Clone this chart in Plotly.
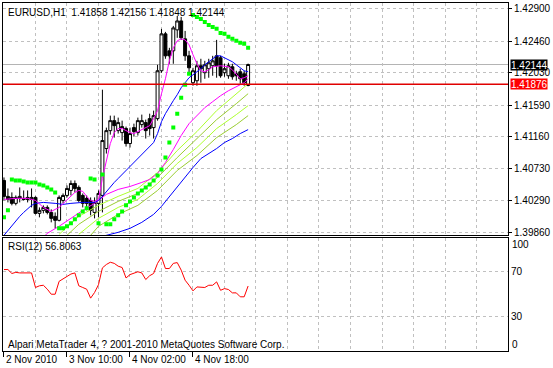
import plotly.graph_objects as go

# ---------------- data ----------------
bars = list(range(63))
opens = [1.40566, 1.40349, 1.40335, 1.40254, 1.40322, 1.40322, 1.40335, 1.40308, 1.40335, 1.40118,
         1.40159, 1.40199, 1.40131, 1.40077, 1.40023, 1.40294, 1.40362, 1.40430, 1.40525, 1.40471,
         1.40362, 1.40322, 1.40294, 1.40131, 1.40254, 1.40362, 1.41000, 1.41244, 1.41380, 1.41244,
         1.41217, 1.41272, 1.41068, 1.41285, 1.41217, 1.41326, 1.41353, 1.41407, 1.41285, 1.41407,
         1.42059, 1.42561, 1.42330, 1.42330, 1.42615, 1.42737, 1.42493, 1.42262, 1.41896, 1.41923,
         1.42127, 1.42032, 1.42086, 1.42127, 1.42262, 1.42235, 1.42032, 1.41991, 1.42113, 1.42018,
         1.42045, 1.42018, 1.41858]
highs = [1.40607, 1.40457, 1.40403, 1.40362, 1.40471, 1.40430, 1.40430, 1.40457, 1.40349, 1.40199,
         1.40227, 1.40227, 1.40172, 1.40131, 1.40362, 1.40389, 1.40498, 1.40566, 1.40566, 1.40498,
         1.40389, 1.40362, 1.40335, 1.40335, 1.40430, 1.41801, 1.41285, 1.41448, 1.41448, 1.41421,
         1.41380, 1.41299, 1.41285, 1.41339, 1.41421, 1.41462, 1.41394, 1.41475, 1.41516, 1.42140,
         1.42629, 1.42588, 1.42371, 1.42669, 1.42805, 1.42791, 1.42601, 1.42330, 1.42099, 1.42194,
         1.42222, 1.42194, 1.42222, 1.42262, 1.42479, 1.42262, 1.42154, 1.42167, 1.42154, 1.42059,
         1.42086, 1.42059, 1.42156]
lows = [1.40294, 1.40267, 1.40227, 1.40227, 1.40267, 1.40294, 1.40267, 1.40199, 1.40104, 1.40064,
        1.40118, 1.40104, 1.39996, 1.39914, 1.40009, 1.40254, 1.40335, 1.40362, 1.40403, 1.40267,
        1.40199, 1.40159, 1.40091, 1.40050, 1.40064, 1.40131, 1.40932, 1.41190, 1.41149, 1.41204,
        1.41109, 1.41027, 1.41014, 1.41163, 1.41177, 1.41285, 1.41136, 1.41177, 1.41136, 1.41380,
        1.42032, 1.42222, 1.42154, 1.42154, 1.42507, 1.42479, 1.42194, 1.42032, 1.41855, 1.41855,
        1.41896, 1.41950, 1.41964, 1.41991, 1.41964, 1.41964, 1.41977, 1.41950, 1.41937, 1.41923,
        1.41882, 1.41855, 1.41848]
closes = [1.40349, 1.40308, 1.40254, 1.40335, 1.40349, 1.40308, 1.40308, 1.40335, 1.40118, 1.40159,
          1.40199, 1.40131, 1.40050, 1.40023, 1.40335, 1.40362, 1.40457, 1.40525, 1.40457, 1.40294,
          1.40254, 1.40254, 1.40159, 1.40267, 1.40389, 1.41109, 1.41244, 1.41380, 1.41312, 1.41353,
          1.41299, 1.41068, 1.41204, 1.41231, 1.41380, 1.41380, 1.41244, 1.41272, 1.41448, 1.42059,
          1.42561, 1.42262, 1.42262, 1.42642, 1.42737, 1.42507, 1.42262, 1.42099, 1.42059, 1.42127,
          1.42086, 1.42140, 1.42167, 1.42194, 1.42127, 1.41991, 1.42086, 1.42127, 1.41977, 1.41991,
          1.41950, 1.41896, 1.42144]

ma_fast_x = [0, 3, 6, 8, 10, 12, 14, 16, 18, 19, 20, 21, 22, 23, 24, 25, 26, 27, 28, 29,
             30, 31, 32, 33, 34, 35, 36, 37, 38, 39, 40, 41, 42, 43, 44, 45, 46, 47, 48, 49,
             50, 51, 52, 53, 55, 57, 58, 59, 60, 61, 62]
ma_fast_y = [1.40308, 1.40322, 1.40322, 1.40294, 1.40199, 1.40145, 1.40199, 1.40308, 1.40403, 1.40430,
             1.40417, 1.40349, 1.40294, 1.40281, 1.40308, 1.40593, 1.40837, 1.41068, 1.41217, 1.41272,
             1.41272, 1.41244, 1.41217, 1.41204, 1.41231, 1.41258, 1.41285, 1.41312, 1.41407, 1.41516,
             1.41747, 1.41950, 1.42194, 1.42371, 1.42466, 1.42493, 1.42479, 1.42412, 1.42276, 1.42154,
             1.42059, 1.42045, 1.42072, 1.42113, 1.42127, 1.42113, 1.42072, 1.42004, 1.41950, 1.41964,
             1.41991]

ma_blue_x = [0, 1, 2, 3, 4, 5, 6, 7, 8, 10, 13, 15, 17, 20, 23, 24, 25, 26, 27, 28, 29, 30,
             32, 34, 36, 38, 39, 40, 41, 42, 43, 44, 45, 46, 47, 48, 49, 50, 51, 52, 53, 54,
             55, 56, 57, 58, 59, 60, 61, 62]
ma_blue_y = [1.39819, 1.39887, 1.39955, 1.40023, 1.40077, 1.40131, 1.40186, 1.40227, 1.40254,
             1.40267, 1.40254, 1.40240, 1.40254, 1.40267, 1.40267, 1.40294, 1.40349, 1.40417,
             1.40484, 1.40539, 1.40593, 1.40647, 1.40756, 1.40864, 1.40973, 1.41082, 1.41204,
             1.41366, 1.41475, 1.41570, 1.41652, 1.41733, 1.41828, 1.41896, 1.41964, 1.42004,
             1.42045, 1.42086, 1.42140, 1.42181, 1.42222, 1.42262, 1.42262, 1.42235, 1.42208,
             1.42181, 1.42140, 1.42099, 1.42059, 1.42045]

ma_slow_x = [10, 11, 14, 17, 20, 23, 24, 26, 29, 32, 35, 37, 39, 41, 43, 45, 47, 49, 51, 53,
             55, 57, 59, 61, 62]
ma_slow_y = [1.39792, 1.39847, 1.39942, 1.40050, 1.40159, 1.40254, 1.40294, 1.40376, 1.40444,
             1.40484, 1.40539, 1.40579, 1.40661, 1.40810, 1.40987, 1.41177, 1.41339, 1.41448,
             1.41557, 1.41638, 1.41719, 1.41787, 1.41842, 1.41896, 1.41950]

ma_low_x = [23, 26, 29, 32, 35, 38, 40, 42, 44, 46, 48, 50, 52, 54, 56, 58, 60, 62]
ma_low_y = [1.39752, 1.39819, 1.39860, 1.39914, 1.39996, 1.40104, 1.40213, 1.40349, 1.40484,
            1.40607, 1.40742, 1.40864, 1.40932, 1.41000, 1.41082, 1.41136, 1.41204, 1.41258]

yg1_x = [14, 19, 24, 29, 34, 39, 44, 49, 54, 59, 62]
yg1_y = [1.39833, 1.40077, 1.40227, 1.40349, 1.40457, 1.40674, 1.40973, 1.41231, 1.41516, 1.41747, 1.41882]
yg2_x = [16, 19, 24, 29, 34, 39, 44, 49, 54, 59, 62]
yg2_y = [1.39819, 1.39969, 1.40145, 1.40281, 1.40389, 1.40607, 1.40878, 1.41136, 1.41394, 1.41611, 1.41747]
yg3_x = [19, 24, 29, 34, 39, 44, 49, 54, 59, 62]
yg3_y = [1.39833, 1.40050, 1.40199, 1.40308, 1.40525, 1.40797, 1.41014, 1.41272, 1.41462, 1.41584]
yg4_x = [22, 24, 29, 34, 39, 44, 49, 54, 59, 62]
yg4_y = [1.39819, 1.39942, 1.40104, 1.40227, 1.40430, 1.40702, 1.40905, 1.41149, 1.41326, 1.41448]

sar = [1.40064, 1.40159, 1.40579, 1.40566, 1.40566, 1.40552, 1.40539, 1.40539, 1.40539, 1.40512,
       1.40498, 1.40471, 1.40444, 1.40403, 1.39914, 1.39914, 1.39942, 1.39982, 1.40037, 1.40091,
       1.40145, 1.40186, 1.40593, 1.40579, 1.39982, 1.40647, 1.39969, 1.39969, 1.40037, 1.40091,
       1.40145, 1.40227, 1.40281, 1.40335, 1.40389, 1.40430, 1.40471, 1.40512, 1.40566, 1.40634,
       1.40715, 1.40878, 1.41082, 1.41285, 1.41475, 1.41692, 1.41869, 1.42018, 1.42819, 1.42791,
       1.42764, 1.42724, 1.42683, 1.42656, 1.42629, 1.42574, 1.42561, 1.42520, 1.42493, 1.42466,
       1.42439, 1.42425, 1.42371]

rsi = [71.5, 71.5, 68.0, 69.0, 68.5, 68.5, 68.5, 68.5, 55.5, 57.0,
       57.5, 54.0, 49.5, 49.5, 61.0, 63.0, 65.5, 67.5, 68.5, 57.0,
       55.5, 54.0, 46.0, 51.0, 58.0, 73.0, 76.0, 78.0, 77.0, 74.5,
       73.3, 64.0, 67.0, 68.0, 69.5, 68.5, 62.6, 66.0, 68.0, 77.0,
       82.7, 72.4, 72.4, 77.0, 77.7, 71.0, 62.0, 57.5, 52.5, 56.0,
       55.5, 55.5, 57.5, 57.5, 60.5, 53.0, 54.5, 53.7, 50.7, 50.7,
       47.2, 47.2, 56.8063]

price_ticks = [1.42900, 1.42460, 1.42030, 1.41590, 1.41160, 1.40730, 1.40290, 1.39860]
price_labels = ["1.42900", "1.42460", "1.42030", "1.41590", "1.41160", "1.40730", "1.40290", "1.39860"]
time_ticks = [0, 16, 32, 48]
time_labels = ["2 Nov 2010", "3 Nov 10:00", "4 Nov 02:00", "4 Nov 18:00"]
grid_bars = list(range(8, 128, 8))
rsi_levels = [70, 30]
rsi_edge_labels = [(94.0, "100"), (5.1, "0")]
bid_price = 1.42144
hline_price = 1.41876
header = "EURUSD,H1  1.41858 1.42156 1.41848 1.42144"
rsi_title = "RSI(12) 56.8063"
footer = "Alpari MetaTrader 4, ? 2001-2010 MetaQuotes Software Corp."

x_range = [-0.25, 128]
price_range = [1.39819, 1.42981]
rsi_range = [-1.11, 99.33]

# ---------------- styling ----------------
W, H = 553, 368
ML, MR, MT, MB = 2, 38, 2, 17
PW, PH = W - ML - MR, H - MT - MB
FONT = "Liberation Sans Narrow, Liberation Sans, Arial, sans-serif"
FS = 10
GRID = "#C0C0C0"
DASH = "3px,3px"


def xp(px):
    return (px - ML) / PW


def yp(py):
    return (H - MB - py) / PH


fig = go.Figure()

fig.add_trace(go.Candlestick(
    x=bars, open=opens, high=highs, low=lows, close=closes,
    increasing=dict(line=dict(color="black", width=1), fillcolor="white"),
    decreasing=dict(line=dict(color="black", width=1), fillcolor="black"),
    whiskerwidth=0, xaxis="x", yaxis="y", showlegend=False, hoverinfo="skip"))

lines = [
    (yg4_x, yg4_y, "#9ACD32"), (yg3_x, yg3_y, "#ADFF2F"),
    (yg2_x, yg2_y, "#9ACD32"), (yg1_x, yg1_y, "#ADFF2F"),
    (ma_low_x, ma_low_y, "#0000FF"), (ma_slow_x, ma_slow_y, "#FF00FF"),
    (ma_blue_x, ma_blue_y, "#0000FF"), (ma_fast_x, ma_fast_y, "#FF00FF"),
]
for lx, ly, c in lines:
    fig.add_trace(go.Scatter(x=lx, y=ly, mode="lines", line=dict(color=c, width=1),
                             xaxis="x", yaxis="y", showlegend=False, hoverinfo="skip"))

fig.add_trace(go.Scatter(x=bars, y=sar, mode="markers",
                         marker=dict(symbol="square", size=4, color="#00FF00", line=dict(width=0)),
                         xaxis="x", yaxis="y", showlegend=False, hoverinfo="skip"))

fig.add_trace(go.Scatter(x=bars, y=rsi, mode="lines", line=dict(color="#FF0000", width=1),
                         xaxis="x2", yaxis="y2", showlegend=False, hoverinfo="skip"))

main_dom = [yp(235), 1]
rsi_dom = [0, yp(238)]

axis_common = dict(showline=True, mirror=True, linecolor="black", linewidth=1,
                   zeroline=False, gridcolor=GRID, griddash=DASH, gridwidth=1,
                   fixedrange=True)

fig.update_layout(
    width=W, height=H, autosize=False,
    margin=dict(l=ML, r=MR, t=MT, b=MB, pad=0),
    paper_bgcolor="white", plot_bgcolor="white",
    font=dict(family=FONT, size=FS, color="black"),
    boxgap=0.25, boxgroupgap=0,
    xaxis=dict(domain=[0, 1], anchor="y", range=x_range, tickmode="array", tickvals=grid_bars,
               showticklabels=False, ticks="", showgrid=True,
               rangeslider=dict(visible=False), **axis_common),
    yaxis=dict(domain=main_dom, anchor="x", side="right", range=price_range,
               tickmode="array", tickvals=price_ticks, ticktext=price_labels,
               ticks="outside", ticklen=3, tickcolor="black", showgrid=True,
               tickfont=dict(family=FONT, size=FS), **axis_common),
    xaxis2=dict(domain=[0, 1], anchor="y2", range=x_range, matches="x",
                tickmode="array", tickvals=time_ticks, showticklabels=False,
                ticks="outside", ticklen=5, tickcolor="black", showgrid=True,
                minor=dict(tickmode="array", tickvals=[v for v in grid_bars if v not in time_ticks],
                           showgrid=True, gridcolor=GRID, griddash=DASH, ticks=""),
                **axis_common),
    yaxis2=dict(domain=rsi_dom, anchor="x2", side="right", range=rsi_range,
                tickmode="array", tickvals=rsi_levels, ticktext=[str(v) for v in rsi_levels],
                ticks="", showgrid=True, tickfont=dict(family=FONT, size=FS), **axis_common),
)

fig.add_shape(type="line", xref="x domain", x0=0, x1=1, yref="y", y0=bid_price, y1=bid_price,
              line=dict(color="#B4B4B4", width=1), layer="below")
fig.add_shape(type="line", xref="x domain", x0=0, x1=1, yref="y", y0=hline_price, y1=hline_price,
              line=dict(color="#E00000", width=1.5))

ann = []
ann.append(dict(xref="paper", yref="paper", x=xp(5), y=yp(11.2), xanchor="left", yanchor="middle",
                text=header, showarrow=False, font=dict(family=FONT, size=FS, color="black")))
ann.append(dict(xref="paper", yref="paper", x=xp(5), y=yp(246.3), xanchor="left", yanchor="middle",
                text=rsi_title, showarrow=False, font=dict(family=FONT, size=FS, color="black")))
ann.append(dict(xref="paper", yref="paper", x=xp(5), y=yp(344), xanchor="left", yanchor="middle",
                text=footer, showarrow=False, font=dict(family=FONT, size=FS, color="black")))
for t, lab in zip(time_ticks, time_labels):
    ann.append(dict(xref="x2", yref="paper", x=t, y=yp(359.5), xanchor="left", yanchor="middle",
                    text=lab, showarrow=False, xshift=0,
                    font=dict(family=FONT, size=FS, color="black")))
for v, lab in rsi_edge_labels:
    ann.append(dict(xref="paper", yref="y2", x=1, y=v, xanchor="left", yanchor="middle",
                    xshift=2, text=lab, showarrow=False,
                    font=dict(family=FONT, size=FS, color="black")))
ann.append(dict(xref="paper", yref="y", x=1, y=bid_price, xanchor="left", yanchor="middle",
                xshift=2, text=f"{bid_price:.5f}", showarrow=False, bgcolor="black",
                width=36, height=10, borderpad=0, align="left",
                font=dict(family=FONT, size=FS, color="white")))
ann.append(dict(xref="paper", yref="y", x=1, y=hline_price, xanchor="left", yanchor="middle",
                xshift=2, text=f"{hline_price:.5f}", showarrow=False, bgcolor="#FF0000",
                width=36, height=10, borderpad=0, align="left",
                font=dict(family=FONT, size=FS, color="white")))
fig.update_layout(annotations=ann)

fig.write_html("out.html", config={"displayModeBar": False})
